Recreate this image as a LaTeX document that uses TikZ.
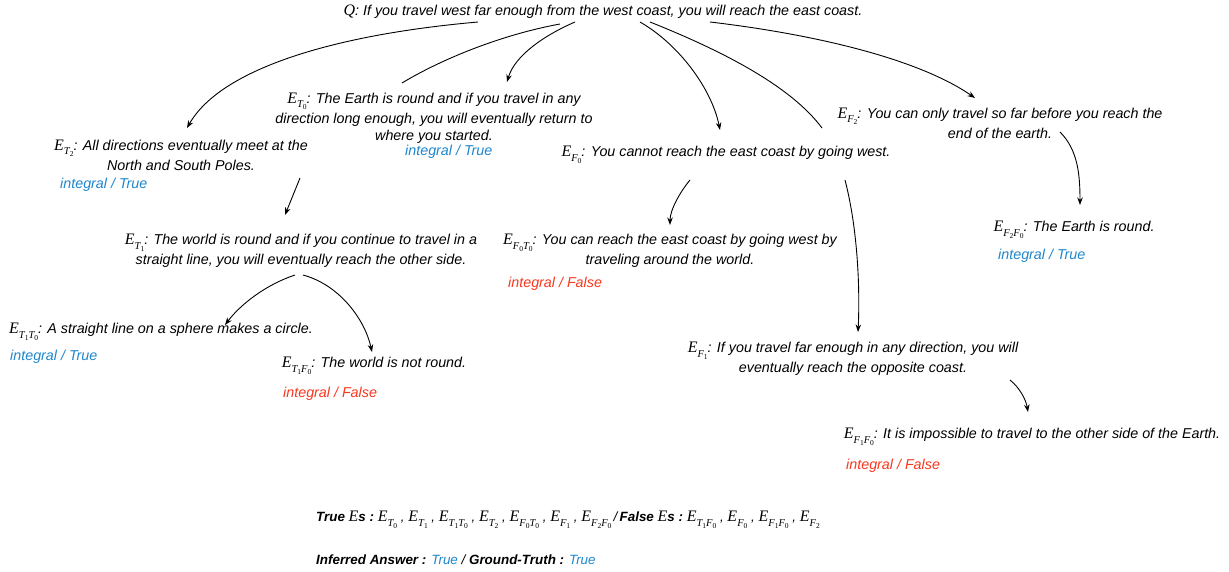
\documentclass[tikz,border=0pt]{standalone}
\usepackage{fontspec}
\setmainfont{Liberation Sans}
\newfontfamily\serifE{Liberation Serif}
\usetikzlibrary{arrows.meta}
\definecolor{tblue}{RGB}{30,135,205}
\definecolor{fred}{RGB}{250,55,30}
\newcommand{\sE}[1]{{\serifE\itshape\fontsize{16}{16}\selectfont E}\raisebox{-4.5pt}{\serifE\itshape\fontsize{10.5}{10.5}\selectfont #1}}
\newcommand{\myS}[2]{#1\raisebox{-2pt}{\upshape\fontsize{7.5}{7.5}\selectfont #2}}
\newcommand{\sQ}{{\serifE\itshape\fontsize{16}{16}\selectfont Q}}
\newcommand{\sEs}{{\serifE\itshape\fontsize{16}{16}\selectfont E}\textbf{s :}}
\tikzset{
  txt/.style={font=\fontsize{14.3}{20}\selectfont\itshape, inner sep=0pt, align=center},
  lab/.style={font=\fontsize{14.3}{16}\selectfont\itshape, inner sep=0pt, anchor=west},
  tru/.style={lab, text=tblue},
  fal/.style={lab, text=fred},
  arr/.style={line width=0.9pt, -{Stealth[length=7.5pt,width=5.5pt]}},
  ln/.style={line width=0.9pt},
  bot/.style={font=\fontsize{13.4}{16}\selectfont\itshape, inner sep=0pt, anchor=west}
}
\begin{document}
\begin{tikzpicture}[x=1pt,y=-1pt]
\useasboundingbox (0,0) rectangle (1229,572);
\fill[white] (0,0) rectangle (1229,572);

\node[txt] (Q) at (603,12) {\sQ: If you travel west far enough from the west coast, you will reach the east coast.};

\node[txt] (T2) at (181,155) {\sE{\myS{T}{2}}: All directions eventually meet at the\\North and South Poles.};
\node[tru] (T2l) at (60,185) {integral / True};

\node[txt] (T0) at (434,118) {\sE{\myS{T}{0}}: The Earth is round and if you travel in any\\direction long enough, you will eventually return to\\[-3pt]where you started.};
\node[tru] (T0l) at (405,152) {integral / True};

\node[txt] (F0) at (726,155) {\sE{\myS{F}{0}}: You cannot reach the east coast by going west.};

\node[txt] (F2) at (1000,123) {\sE{\myS{F}{2}}: You can only travel so far before you reach the\\end of the earth.};

\node[txt] (T1) at (301,251) {\sE{\myS{T}{1}}: The world is round and if you continue to travel in a\\straight line, you will eventually reach the other side.};

\node[txt] (F0T0) at (670,251) {\sE{\myS{F}{0}\myS{T}{0}}: You can reach the east coast by going west by\\traveling around the world.};
\node[fal] (F0T0l) at (508,284) {integral / False};

\node[txt] (F2F0) at (1074,230) {\sE{\myS{F}{2}\myS{F}{0}}: The Earth is round.};
\node[tru] (F2F0l) at (998,256) {integral / True};

\node[txt] (T1T0) at (161,332) {\sE{\myS{T}{1}\myS{T}{0}}: A straight line on a sphere makes a circle.};
\node[tru] (T1T0l) at (10,357) {integral / True};

\node[txt] (T1F0) at (374,366) {\sE{\myS{T}{1}\myS{F}{0}}: The world is not round.};
\node[fal] (T1F0l) at (283,394) {integral / False};

\node[txt] (F1) at (853,359) {\sE{\myS{F}{1}}: If you travel far enough in any direction, you will\\eventually reach the opposite coast.};

\node[txt] (F1F0) at (1032,437) {\sE{\myS{F}{1}\myS{F}{0}}: It is impossible to travel to the other side of the Earth.};
\node[fal] (F1F0l) at (846,466) {integral / False};

\node[bot] (sum) at (316,520) {\textbf{True} \sEs\ \sE{\myS{T}{0}} , \sE{\myS{T}{1}} , \sE{\myS{T}{1}\myS{T}{0}} , \sE{\myS{T}{2}} , \sE{\myS{F}{0}\myS{T}{0}} , \sE{\myS{F}{1}} , \sE{\myS{F}{2}\myS{F}{0}}\,/\,\textbf{False} \sEs\ \sE{\myS{T}{1}\myS{F}{0}} , \sE{\myS{F}{0}} , \sE{\myS{F}{1}\myS{F}{0}} , \sE{\myS{F}{2}}};
\node[bot] (ans) at (316,560) {\textbf{Inferred Answer : }\textcolor{tblue}{True} / \textbf{Ground-Truth : }\textcolor{tblue}{True}};

% connectors from Q
\draw[arr] ([shift={(-125,10)}]Q.center) .. controls (330,35) and (220,70) .. ([shift={(6,-27)}]T2.center);
\draw[ln] ([shift={(-32,-35)}]T0.center) .. controls (440,60) and (500,35) .. ([shift={(-43,12)}]Q.center);
\draw[arr] ([shift={(-28,10)}]Q.center) .. controls (545,35) and (515,55) .. ([shift={(73,-36)}]T0.center);
\draw[arr] ([shift={(37,10)}]Q.center) .. controls (680,45) and (712,90) .. ([shift={(-6,-25)}]F0.center);
\draw[ln] ([shift={(47,10)}]Q.center) .. controls (720,50) and (790,85) .. ([shift={(96,-27)}]F0.center);
\draw[arr] ([shift={(107,10)}]Q.center) .. controls (820,35) and (920,60) .. ([shift={(-25,-25)}]F2.center);

\draw[arr] ([shift={(119,23)}]T2.center) -- ([shift={(-16,-36)}]T1.center);
\draw[arr] ([shift={(-6,24)}]T1.center) .. controls (265,285) and (240,305) .. ([shift={(64,-7)}]T1T0.center);
\draw[arr] ([shift={(2,24)}]T1.center) .. controls (340,285) and (365,320) .. ([shift={(-2,-14)}]T1F0.center);

\draw[arr] ([shift={(-36,25)}]F0.center) .. controls (680,192) and (670,210) .. ([shift={(0,-26)}]F0T0.center);
\draw[arr] ([shift={(119,25)}]F0.center) .. controls (858,230) and (860,290) .. ([shift={(5,-27)}]F1.center);
\draw[arr] ([shift={(60,9)}]F2.center) .. controls (1078,150) and (1080,175) .. ([shift={(6,-25)}]F2F0.center);
\draw[arr] ([shift={(157,21)}]F1.center) .. controls (1020,388) and (1026,400) .. ([shift={(-4,-25)}]F1F0.center);
\end{tikzpicture}
\end{document}
